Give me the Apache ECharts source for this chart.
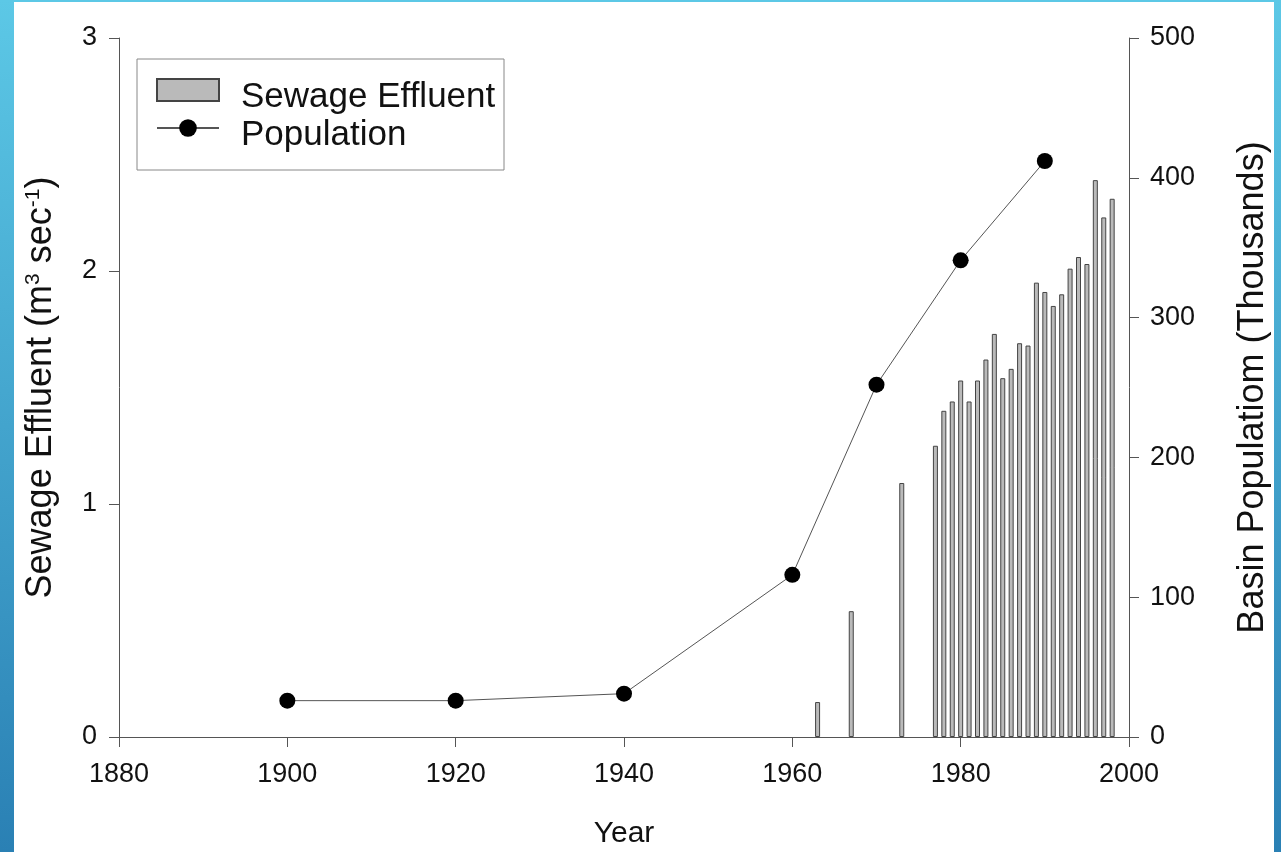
<!DOCTYPE html>
<html>
<head>
<meta charset="utf-8">
<script src="https://cdn.jsdelivr.net/npm/echarts@6/dist/echarts.min.js"></script>
<style>
html,body{margin:0;padding:0;background:#fff;}
#chart{width:1281px;height:852px;}
</style>
</head>
<body>
<div id="chart"></div>
<script>
// Data
const effluentYears = [1963,1967,1973,1977,1978,1979,1980,1981,1982,1983,1984,1985,1986,1987,1988,1989,1990,1991,1992,1993,1994,1995,1996,1997,1998];
const effluentValues = [0.15,0.54,1.09,1.25,1.40,1.44,1.53,1.44,1.53,1.62,1.73,1.54,1.58,1.69,1.68,1.95,1.91,1.85,1.90,2.01,2.06,2.03,2.39,2.23,2.31];
const popYears = [1900,1920,1940,1960,1970,1980,1990];
const popValues = [26,26,31,116,252,341,412];
const seriesNames = ['Sewage Effluent','Population'];
const xAxisName = 'Year';
const leftAxisName = 'Sewage Effluent (m{sup|3} sec{sup|-1})';
const rightAxisName = 'Basin Populatiom (Thousands)';

const FONT = '"Liberation Sans", Arial, sans-serif';
const chart = echarts.init(document.getElementById('chart'));
const axisLineStyle = {color:'#555', width:1};
const blueGrad = () => new echarts.graphic.LinearGradient(0,0,0,1,[{offset:0,color:'#5cc8e6'},{offset:1,color:'#2a80b4'}]);

chart.setOption({
  backgroundColor:'#fff',
  animation:false,
  textStyle:{fontFamily:FONT},
  graphic:[
    {type:'rect', shape:{x:0,y:0,width:14,height:852}, z:-10, style:{fill:blueGrad()}},
    {type:'rect', shape:{x:1274,y:0,width:7,height:852}, z:-10, style:{fill:blueGrad()}},
    {type:'rect', shape:{x:0,y:0,width:1281,height:2}, z:-10, style:{fill:'#5cc8e6'}},
    {type:'rect', shape:{x:137,y:59,width:367,height:111}, z:-5,
     style:{fill:'#fff', stroke:'#888', lineWidth:1}}
  ],
  legend:{
    orient:'vertical', left:156, top:78, padding:0,
    itemWidth:62, itemHeight:22, itemGap:3,
    formatter:name => '{a|' + name + '}',
    textStyle:{fontSize:35, color:'#111', fontFamily:FONT, padding:[0,0,0,17],
      rich:{a:{fontSize:35, color:'#111', fontFamily:FONT, padding:[14,0,0,0]}}},
    data:[{name:seriesNames[0], icon:'rect'},{name:seriesNames[1]}]
  },
  grid:{left:119, right:152, top:38, bottom:115, containLabel:false, outerBoundsMode:'none'},
  xAxis:{
    type:'value', min:1880, max:2000, interval:20,
    name:xAxisName, nameLocation:'middle', nameGap:82,
    nameTextStyle:{fontSize:30, color:'#111', fontFamily:FONT},
    axisLine:{show:true, onZero:false, lineStyle:axisLineStyle},
    axisTick:{show:true, inside:false, length:10, lineStyle:axisLineStyle},
    axisLabel:{fontSize:27, color:'#111', margin:24, fontFamily:FONT, formatter:v=>String(v)},
    splitLine:{show:false}
  },
  yAxis:[{
    type:'value', min:0, max:3, interval:1, position:'left',
    name:leftAxisName, nameLocation:'middle', nameGap:59, nameRotate:90,
    nameTextStyle:{fontSize:36, color:'#111', fontFamily:FONT,
      rich:{sup:{fontSize:21, color:'#111', fontFamily:FONT, padding:[0,0,16,0]}}},
    axisLine:{show:true, lineStyle:axisLineStyle},
    axisTick:{show:true, inside:false, length:10, lineStyle:axisLineStyle},
    axisLabel:{fontSize:27, color:'#111', margin:22, fontFamily:FONT},
    splitLine:{show:false}
  },{
    type:'value', min:0, max:500, interval:100, position:'right',
    name:rightAxisName, nameLocation:'middle', nameGap:106, nameRotate:90,
    nameTextStyle:{fontSize:36, color:'#111', fontFamily:FONT},
    axisLine:{show:true, lineStyle:axisLineStyle},
    axisTick:{show:true, inside:false, length:10, lineStyle:axisLineStyle},
    axisLabel:{fontSize:27, color:'#111', margin:21, fontFamily:FONT},
    splitLine:{show:false}
  }],
  series:[{
    name:seriesNames[0], type:'bar', yAxisIndex:0, barWidth:5,
    itemStyle:{color:'#bababa', borderColor:'#444', borderWidth:1},
    data:effluentYears.map((y,i)=>[y,effluentValues[i]])
  },{
    name:seriesNames[1], type:'line', yAxisIndex:1,
    symbol:'circle', symbolSize:16,
    lineStyle:{color:'#555', width:1},
    itemStyle:{color:'#000'},
    data:popYears.map((y,i)=>[y,popValues[i]])
  }]
});
</script>
</body>
</html>
